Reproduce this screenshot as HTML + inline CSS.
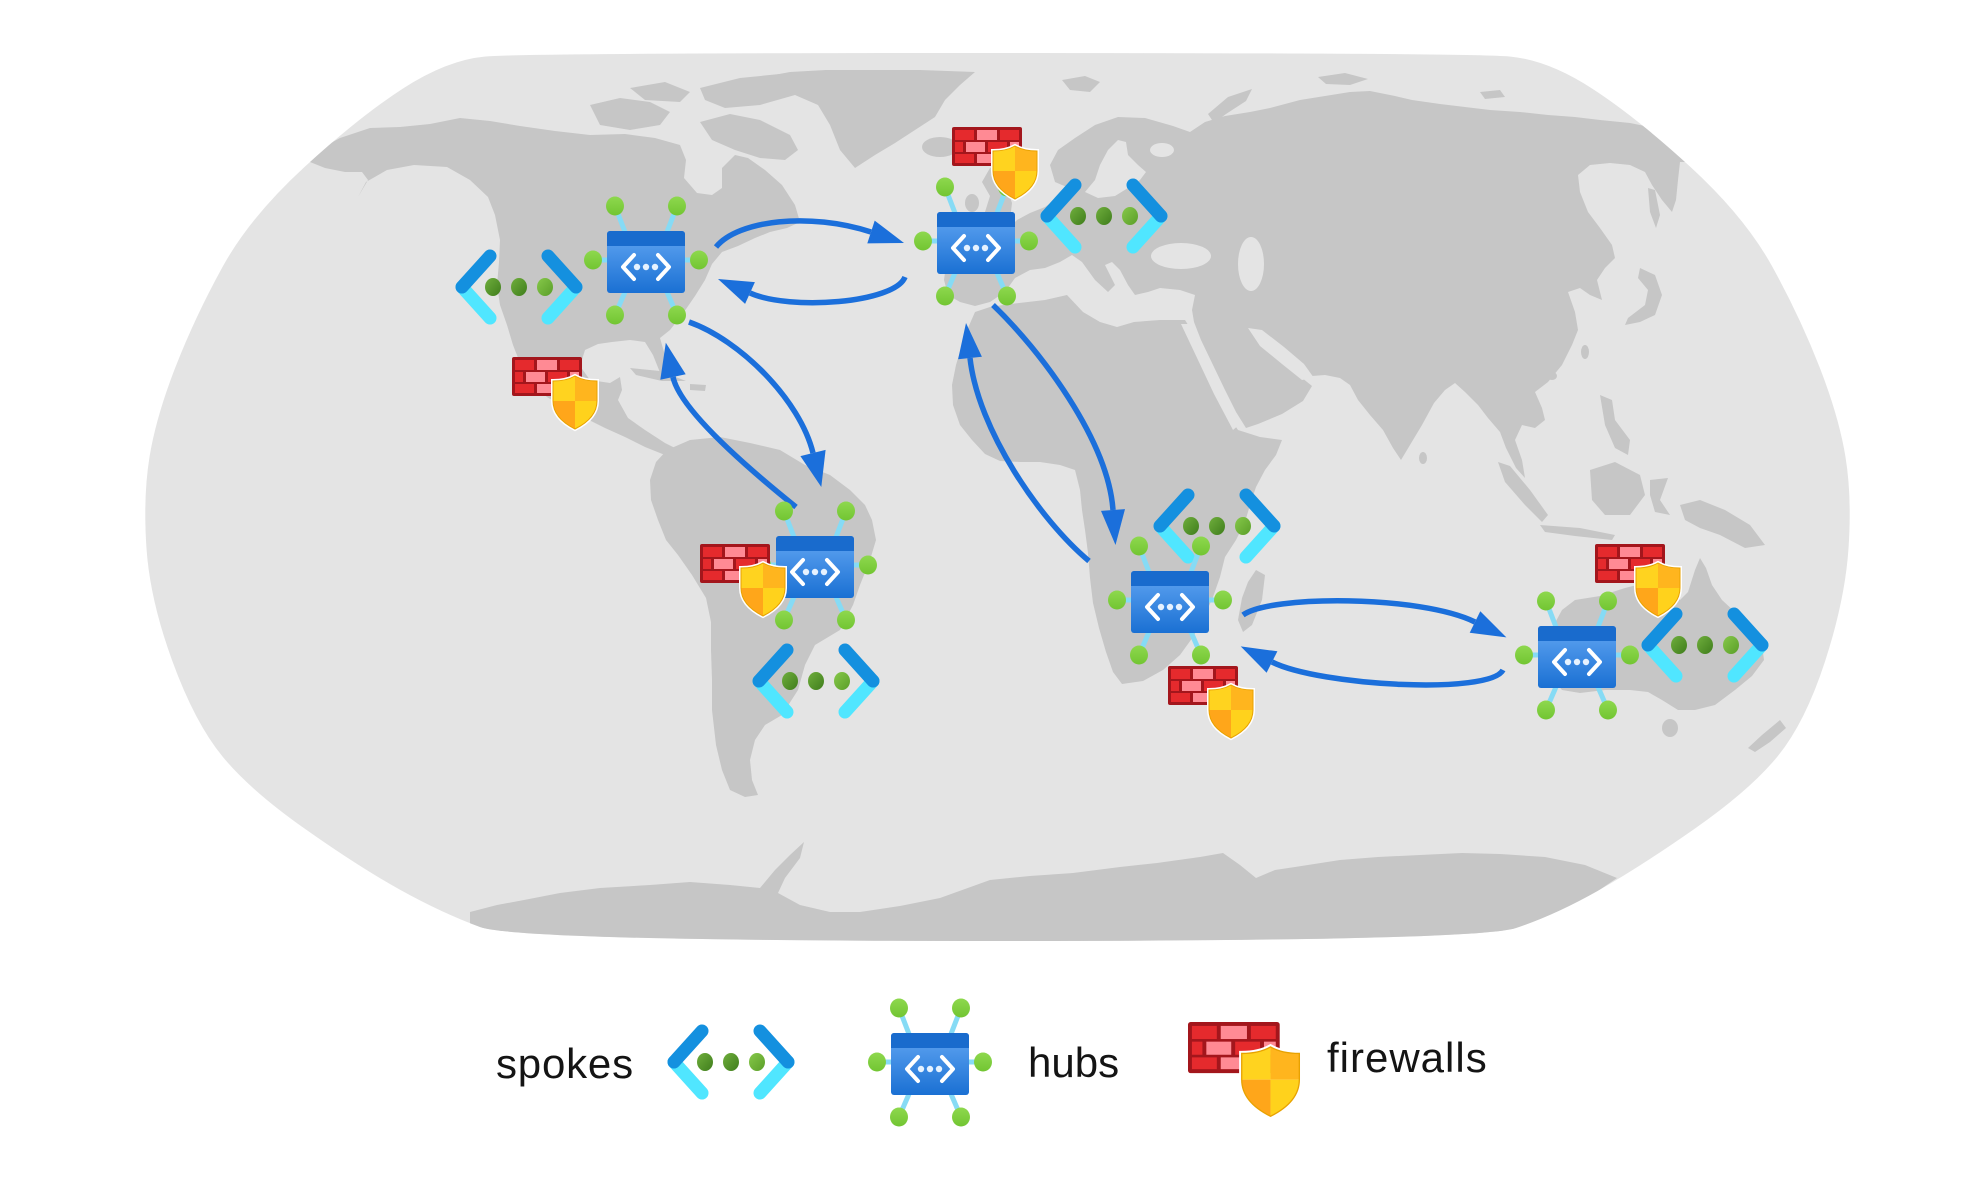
<!DOCTYPE html>
<html>
<head>
<meta charset="utf-8">
<style>
html,body{margin:0;padding:0;background:#fff;}
body{width:1986px;height:1202px;overflow:hidden;}
svg{display:block;}
</style>
</head>
<body>
<svg width="1986" height="1202" viewBox="0 0 1986 1202" xmlns="http://www.w3.org/2000/svg">
<defs>
  <clipPath id="mapclip">
    <path d="M997.5,53 Q1471,53 1509.5,56.5 Q1548,60 1592,88.5 Q1636,117 1690.5,167 Q1745,217 1772.5,267 Q1800,317 1819.5,367 Q1839,417 1845.5,457 Q1852,497 1848.5,548.5 Q1845,600 1825,661.5 Q1805,723 1777.5,756.5 Q1750,790 1695,828.5 Q1640,867 1597.5,891 Q1555,915 1516,928 Q1477,941 997.5,941 Q518,941 480,927 Q442,913 400.5,890 Q359,867 304.5,828.5 Q250,790 222.5,756.5 Q195,723 172.5,661.5 Q150,600 146.5,548.5 Q143,497 149.5,457 Q156,417 175.5,367 Q195,317 222.5,267 Q250,217 304.5,167 Q359,117 403,88.5 Q447,60 485.5,56.5 Q524,53 997.5,53 Z"/>
  </clipPath>
  <linearGradient id="hubg" x1="0" y1="0" x2="0" y2="1">
    <stop offset="0" stop-color="#62a6f3"/>
    <stop offset="1" stop-color="#1a70d3"/>
  </linearGradient>
  <linearGradient id="gdot" x1="0" y1="0" x2="0" y2="1">
    <stop offset="0" stop-color="#8ed84e"/>
    <stop offset="1" stop-color="#72c532"/>
  </linearGradient>
  <linearGradient id="sdot" x1="0" y1="0" x2="1" y2="1">
    <stop offset="0" stop-color="#6fae3c"/>
    <stop offset="1" stop-color="#3f7d1c"/>
  </linearGradient>
  <linearGradient id="sdot2" x1="0" y1="0" x2="1" y2="1">
    <stop offset="0" stop-color="#86c84a"/>
    <stop offset="1" stop-color="#5a9e28"/>
  </linearGradient>
  <clipPath id="shc">
    <path d="M22,0 C29,4 36,5 44,5 L44,25 C44,38 34,47 22,53 C10,47 0,38 0,25 L0,5 C8,5 15,4 22,0 Z"/>
  </clipPath>

  <g id="hub">
    <g stroke="#86dbf5" stroke-width="5">
      <line x1="-31" y1="-56" x2="-21" y2="-30"/>
      <line x1="31" y1="-56" x2="21" y2="-30"/>
      <line x1="-53" y1="-2" x2="-38" y2="-2"/>
      <line x1="53" y1="-2" x2="38" y2="-2"/>
      <line x1="-31" y1="53" x2="-21" y2="30"/>
      <line x1="31" y1="53" x2="21" y2="30"/>
    </g>
    <g fill="url(#gdot)">
      <ellipse cx="-31" cy="-56" rx="9" ry="9.5"/>
      <ellipse cx="31" cy="-56" rx="9" ry="9.5"/>
      <ellipse cx="-53" cy="-2" rx="9" ry="9.5"/>
      <ellipse cx="53" cy="-2" rx="9" ry="9.5"/>
      <ellipse cx="-31" cy="53" rx="9" ry="9.5"/>
      <ellipse cx="31" cy="53" rx="9" ry="9.5"/>
    </g>
    <rect x="-39" y="-31" width="78" height="62" rx="3" fill="url(#hubg)"/>
    <path d="M-39,-16 V-28 A3,3 0 0 1 -36,-31 H36 A3,3 0 0 1 39,-28 V-16 Z" fill="#196bcd"/>
    <g fill="none" stroke="#ffffff" stroke-width="4" stroke-linecap="round" stroke-linejoin="round">
      <polyline points="-12,-7 -23,5 -12,17"/>
      <polyline points="12,-7 23,5 12,17"/>
    </g>
    <g fill="#e6f2ff">
      <circle cx="-9" cy="5" r="3.2"/>
      <circle cx="0" cy="5" r="3.2"/>
      <circle cx="9" cy="5" r="3.2"/>
    </g>
  </g>

  <g id="spoke">
    <g stroke-width="13" stroke-linecap="round">
      <line x1="-57" y1="0" x2="-29" y2="31" stroke="#50e6ff"/>
      <line x1="-57" y1="0" x2="-29" y2="-31" stroke="#1490df"/>
      <line x1="57" y1="0" x2="29" y2="31" stroke="#50e6ff"/>
      <line x1="57" y1="0" x2="29" y2="-31" stroke="#1490df"/>
    </g>
    <ellipse cx="-26" cy="0" rx="8" ry="9" fill="url(#sdot)"/>
    <ellipse cx="0" cy="0" rx="8" ry="9" fill="url(#sdot)"/>
    <ellipse cx="26" cy="0" rx="8" ry="9" fill="url(#sdot2)"/>
  </g>

  <g id="fw">
    <rect x="0" y="0" width="70" height="39" rx="2" fill="#a3161c"/>
    <g fill="#e52a2d">
      <rect x="3" y="3" width="19" height="10"/>
      <rect x="48" y="3" width="19" height="10"/>
      <rect x="3" y="15" width="8" height="10"/>
      <rect x="36" y="15" width="19" height="10"/>
      <rect x="3" y="27" width="19" height="9"/>
      <rect x="48" y="27" width="19" height="9"/>
    </g>
    <g fill="#ff8a94">
      <rect x="25" y="3" width="20" height="10"/>
      <rect x="14" y="15" width="19" height="10"/>
      <rect x="58" y="15" width="9" height="10"/>
      <rect x="25" y="27" width="20" height="9"/>
    </g>
    <g transform="translate(41,19)">
      <path d="M22,0 C29,4 36,5 44,5 L44,25 C44,38 34,47 22,53 C10,47 0,38 0,25 L0,5 C8,5 15,4 22,0 Z" fill="none" stroke="#ffffff" stroke-width="4"/>
      <g clip-path="url(#shc)">
        <rect x="0" y="0" width="22" height="25" fill="#ffd31f"/>
        <rect x="22" y="0" width="22" height="25" fill="#ffb51e"/>
        <rect x="0" y="25" width="22" height="28" fill="#ffa61a"/>
        <rect x="22" y="25" width="22" height="28" fill="#ffd21c"/>
      </g>
      <path d="M22,0 C29,4 36,5 44,5 L44,25 C44,38 34,47 22,53 C10,47 0,38 0,25 L0,5 C8,5 15,4 22,0 Z" fill="none" stroke="#e8a200" stroke-width="1"/>
    </g>
  </g>
</defs>

<rect x="0" y="0" width="1986" height="1202" fill="#ffffff"/>

<!-- map background -->
<path d="M997.5,53 Q1471,53 1509.5,56.5 Q1548,60 1592,88.5 Q1636,117 1690.5,167 Q1745,217 1772.5,267 Q1800,317 1819.5,367 Q1839,417 1845.5,457 Q1852,497 1848.5,548.5 Q1845,600 1825,661.5 Q1805,723 1777.5,756.5 Q1750,790 1695,828.5 Q1640,867 1597.5,891 Q1555,915 1516,928 Q1477,941 997.5,941 Q518,941 480,927 Q442,913 400.5,890 Q359,867 304.5,828.5 Q250,790 222.5,756.5 Q195,723 172.5,661.5 Q150,600 146.5,548.5 Q143,497 149.5,457 Q156,417 175.5,367 Q195,317 222.5,267 Q250,217 304.5,167 Q359,117 403,88.5 Q447,60 485.5,56.5 Q524,53 997.5,53 Z" fill="#e4e4e4"/>

<g clip-path="url(#mapclip)">
  <g fill="#c6c6c6">
    <!-- North America -->
    <path d="M305,160 L318,150 L340,138 L370,128 L400,127 L430,124 L460,118 L490,121 L520,126 L555,131 L590,135 L625,134 L655,138 L680,145 L686,160 L684,178 L697,193 L712,195 L722,188 L722,168 L735,155 L748,158 L765,170 L782,185 L795,205 L800,222 L787,228 L770,232 L755,238 L738,246 L722,252 L712,264 L705,280 L695,296 L684,312 L670,330 L660,338 L664,352 L668,370 L661,375 L653,355 L645,342 L630,340 L612,342 L598,344 L585,350 L580,366 L590,380 L610,383 L620,377 L622,390 L618,400 L628,418 L645,430 L665,443 L683,452 L680,458 L665,455 L645,447 L625,437 L605,428 L585,418 L565,408 L547,397 L532,385 L522,368 L513,345 L507,325 L500,305 L497,285 L499,262 L500,240 L495,215 L488,197 L470,180 L447,167 L414,165 L387,170 L366,182 L358,197 L368,180 L362,172 L345,172 L325,168 Z"/>
    <path d="M630,368 L660,371 L686,381 L662,381 L636,375 Z"/>
    <path d="M690,384 L706,385 L705,391 L690,390 Z"/>
    <!-- Arctic islands -->
    <path d="M590,105 L620,98 L650,102 L670,112 L660,125 L630,130 L600,125 Z"/>
    <path d="M700,122 L730,114 L760,120 L790,135 L798,150 L785,160 L760,158 L735,150 L712,140 Z"/>
    <path d="M700,88 L740,78 L790,73 L815,80 L795,95 L760,105 L725,108 L705,100 Z"/>
    <path d="M630,88 L665,82 L690,92 L680,102 L645,100 Z"/>
    <!-- Greenland -->
    <path d="M758,78 L790,72 L826,70 L870,70 L920,70 L975,72 L960,85 L945,100 L935,117 L915,130 L895,143 L875,155 L855,168 L840,150 L830,125 L818,105 L795,95 L775,88 Z"/>
    <!-- Iceland -->
    <ellipse cx="940" cy="147" rx="18" ry="10"/>
    <!-- South America -->
    <path d="M667,450 L690,440 L720,437 L750,443 L780,450 L805,465 L830,475 L850,490 L865,505 L872,520 L876,540 L870,560 L860,585 L853,605 L840,630 L815,645 L805,665 L798,690 L782,715 L765,725 L755,740 L750,760 L752,780 L758,795 L745,797 L730,790 L722,770 L716,745 L712,710 L712,680 L711,650 L711,622 L706,598 L692,575 L678,555 L666,540 L658,520 L651,500 L650,480 L656,462 Z"/>
    <!-- Eurasia -->
    <path d="M1055,182 L1050,165 L1058,150 L1075,138 L1095,125 L1118,117 L1145,118 L1173,126 L1190,132 L1205,122 L1225,116 L1250,112 L1270,108 L1300,100 L1325,96 L1350,92 L1370,91 L1395,96 L1412,100 L1440,104 L1465,107 L1490,110 L1520,112 L1548,115 L1575,117 L1600,120 L1630,123 L1655,128 L1675,135 L1690,150 L1692,162 L1680,162 L1678,180 L1676,200 L1672,212 L1662,200 L1652,185 L1645,172 L1630,165 L1610,163 L1590,165 L1578,175 L1580,192 L1588,212 L1600,228 L1612,245 L1615,258 L1605,268 L1597,280 L1602,300 L1590,295 L1580,288 L1568,292 L1575,312 L1578,330 L1572,345 L1562,365 L1548,382 L1535,392 L1542,408 L1545,420 L1535,428 L1522,425 L1515,440 L1522,460 L1525,478 L1516,468 L1506,448 L1500,432 L1488,418 L1478,405 L1465,392 L1455,383 L1445,390 L1434,403 L1422,425 L1410,445 L1401,460 L1393,448 L1383,430 L1370,415 L1358,400 L1350,385 L1340,378 L1325,375 L1312,376 L1305,366 L1290,355 L1275,347 L1265,340 L1280,360 L1296,373 L1312,386 L1303,401 L1282,414 L1258,424 L1246,428 L1236,412 L1225,390 L1213,365 L1201,340 L1194,322 L1192,310 L1195,295 L1180,290 L1160,288 L1148,292 L1135,295 L1128,285 L1120,270 L1112,262 L1105,265 L1115,285 L1108,292 L1095,280 L1082,262 L1072,255 L1060,262 L1045,268 L1030,270 L1015,278 L1005,292 L990,302 L975,306 L960,302 L948,295 L944,280 L946,265 L960,255 L985,255 L995,245 L1005,232 L1017,220 L1030,213 L1045,207 L1055,200 L1065,192 L1070,188 L1062,185 Z"/>
    <!-- British Isles -->
    <path d="M990,168 L1000,166 L1005,182 L1012,203 L1010,220 L992,223 L985,212 L990,196 L982,182 Z"/>
    <ellipse cx="972" cy="203" rx="7" ry="9"/>
    <!-- Arctic Eurasia islands -->
    <path d="M1062,80 L1085,76 L1100,82 L1090,92 L1070,90 Z"/>
    <path d="M1208,114 L1228,97 L1252,89 L1246,101 L1226,114 L1214,123 Z"/>
    <path d="M1318,77 L1345,73 L1368,79 L1350,85 L1326,84 Z"/>
    <path d="M1480,92 L1500,90 L1505,97 L1485,99 Z"/>
    <!-- Japan, Sakhalin, Taiwan, Sri Lanka -->
    <path d="M1640,268 L1655,275 L1662,295 L1655,315 L1640,322 L1625,325 L1628,318 L1645,305 L1648,290 L1638,278 Z"/>
    <path d="M1648,188 L1655,190 L1660,215 L1656,228 L1650,212 Z"/>
    <ellipse cx="1585" cy="352" rx="4" ry="7"/>
    <ellipse cx="1552" cy="376" rx="5" ry="4"/>
    <ellipse cx="1423" cy="458" rx="4" ry="6"/>
    <!-- Africa -->
    <path d="M975,312 L990,307 L1010,304 L1045,300 L1067,295 L1083,312 L1100,322 L1117,327 L1134,322 L1160,320 L1185,320 L1190,328 L1196,345 L1205,367 L1215,390 L1226,412 L1238,430 L1260,437 L1282,440 L1276,455 L1265,470 L1256,487 L1250,505 L1245,522 L1236,540 L1225,557 L1220,577 L1213,597 L1204,617 L1193,637 L1180,655 L1163,670 L1143,681 L1122,684 L1113,672 L1106,652 L1099,628 L1093,603 L1090,578 L1088,553 L1085,530 L1082,510 L1080,490 L1075,470 L1060,465 L1040,462 L1020,462 L1000,461 L985,454 L972,440 L960,425 L953,405 L952,385 L956,365 L962,345 L968,328 Z"/>
    <!-- Madagascar -->
    <path d="M1256,570 L1265,575 L1262,600 L1252,625 L1243,632 L1238,620 L1242,598 L1248,582 Z"/>
    <!-- SE Asia islands -->
    <path d="M1498,462 L1510,466 L1530,490 L1548,515 L1542,522 L1525,505 L1505,482 Z"/>
    <path d="M1540,525 L1580,528 L1615,535 L1612,540 L1575,536 L1545,532 Z"/>
    <path d="M1590,470 L1615,462 L1640,475 L1645,495 L1630,515 L1605,515 L1592,500 Z"/>
    <path d="M1650,480 L1668,478 L1660,500 L1670,515 L1655,512 L1650,495 Z"/>
    <path d="M1600,395 L1612,400 L1615,420 L1630,440 L1628,455 L1615,448 L1605,425 Z"/>
    <path d="M1680,505 L1700,500 L1725,510 L1750,525 L1765,545 L1745,548 L1720,535 L1700,528 L1685,520 Z"/>
    <!-- Australia -->
    <path d="M1562,610 L1575,600 L1600,596 L1625,588 L1645,583 L1662,582 L1672,590 L1680,600 L1688,592 L1695,570 L1700,558 L1706,568 L1712,585 L1722,600 L1735,612 L1748,628 L1762,645 L1764,660 L1752,676 L1735,690 L1715,705 L1695,710 L1678,710 L1662,700 L1648,692 L1630,690 L1605,690 L1580,693 L1562,690 L1550,676 L1547,655 L1550,632 Z"/>
    <ellipse cx="1670" cy="728" rx="8" ry="9"/>
    <path d="M1780,720 L1786,728 L1770,742 L1755,752 L1748,748 L1762,735 Z"/>
    <!-- Antarctica -->
    <path d="M470,950 L470,912 L497,905 L524,900 L560,893 L600,888 L650,885 L690,882 L730,885 L760,888 L775,870 L790,855 L804,842 L800,858 L785,878 L778,893 L800,905 L830,912 L860,912 L900,906 L940,898 L990,880 L1030,876 L1073,873 L1120,867 L1157,863 L1200,857 L1223,853 L1240,865 L1256,878 L1275,870 L1295,867 L1340,860 L1378,857 L1420,855 L1462,853 L1500,854 L1545,857 L1585,865 L1617,878 L1595,893 L1573,907 L1545,920 L1515,932 L1490,950 Z"/>
  </g>
  <!-- inland seas -->
  <g fill="#e4e4e4">
    <path d="M1085,192 L1095,180 L1100,165 L1108,150 L1118,140 L1126,142 L1128,155 L1138,165 L1146,172 L1140,180 L1128,188 L1115,196 L1098,198 Z"/>
    <ellipse cx="1162" cy="150" rx="12" ry="7"/>
    <ellipse cx="1181" cy="256" rx="30" ry="13"/>
    <ellipse cx="1251" cy="264" rx="13" ry="27"/>
    <!-- Red Sea -->
    <path d="M1181,324 L1190,324 L1206,354 L1222,388 L1240,424 L1233,430 L1214,394 L1198,360 Z"/>
    <!-- Persian Gulf -->
    <path d="M1248,328 L1262,330 L1284,347 L1304,364 L1314,378 L1302,380 L1282,364 L1260,346 Z"/>
  </g>
</g>

<!-- arrows -->
<g fill="none" stroke="#1b6fdb" stroke-width="5.5">
  <path d="M716,247 C738,220 810,212 871,232"/>
  <path d="M905,277 C895,303 790,311 750,293"/>
  <path d="M689,322 C740,340 800,400 813,453"/>
  <path d="M796,507 C750,470 680,410 673,377"/>
  <path d="M993,305 C1040,350 1108,440 1113,510"/>
  <path d="M1089,561 C1040,520 978,430 970,358"/>
  <path d="M1243,615 C1270,595 1420,595 1475,622"/>
  <path d="M1503,670 C1490,695 1320,686 1272,662"/>
</g>
<g fill="#1b6fdb">
  <polygon points="904,243 867.3,243.4 874.7,220.6"/>
  <polygon points="718,279 754.9,282.1 745.1,303.9"/>
  <polygon points="821.3,487 800.4,456.1 825.6,449.9"/>
  <polygon points="665.8,342.8 685.7,374.3 660.3,379.7"/>
  <polygon points="1115.5,545 1101,510.9 1125,509.1"/>
  <polygon points="966,323 981.9,356.7 958.1,359.3"/>
  <polygon points="1506.4,637.4 1469.7,632.8 1480.3,611.2"/>
  <polygon points="1240.7,646.4 1277.4,651.3 1266.6,672.7"/>
</g>

<!-- spokes -->
<use href="#spoke" transform="translate(519,287)"/>
<use href="#spoke" transform="translate(1104,216)"/>
<use href="#spoke" transform="translate(816,681)"/>
<use href="#spoke" transform="translate(1217,526)"/>
<use href="#spoke" transform="translate(1705,645)"/>

<!-- hubs -->
<use href="#hub" transform="translate(646,262)"/>
<use href="#hub" transform="translate(976,243)"/>
<use href="#hub" transform="translate(815,567)"/>
<use href="#hub" transform="translate(1170,602)"/>
<use href="#hub" transform="translate(1577,657)"/>

<!-- firewalls -->
<use href="#fw" transform="translate(512,357)"/>
<use href="#fw" transform="translate(952,127)"/>
<use href="#fw" transform="translate(700,544)"/>
<use href="#fw" transform="translate(1168,666)"/>
<use href="#fw" transform="translate(1595,544)"/>

<!-- legend -->
<use href="#spoke" transform="translate(731,1062)"/>
<use href="#hub" transform="translate(930,1064)"/>
<use href="#fw" transform="translate(1188,1022) scale(1.31)"/>
<g font-family="'Liberation Sans', Arial, sans-serif" font-size="42" fill="#141414">
  <text x="496" y="1078" letter-spacing="0.8">spokes</text>
  <text x="1028" y="1077" letter-spacing="0">hubs</text>
  <text x="1327" y="1072" letter-spacing="1">firewalls</text>
</g>
</svg>
</body>
</html>
